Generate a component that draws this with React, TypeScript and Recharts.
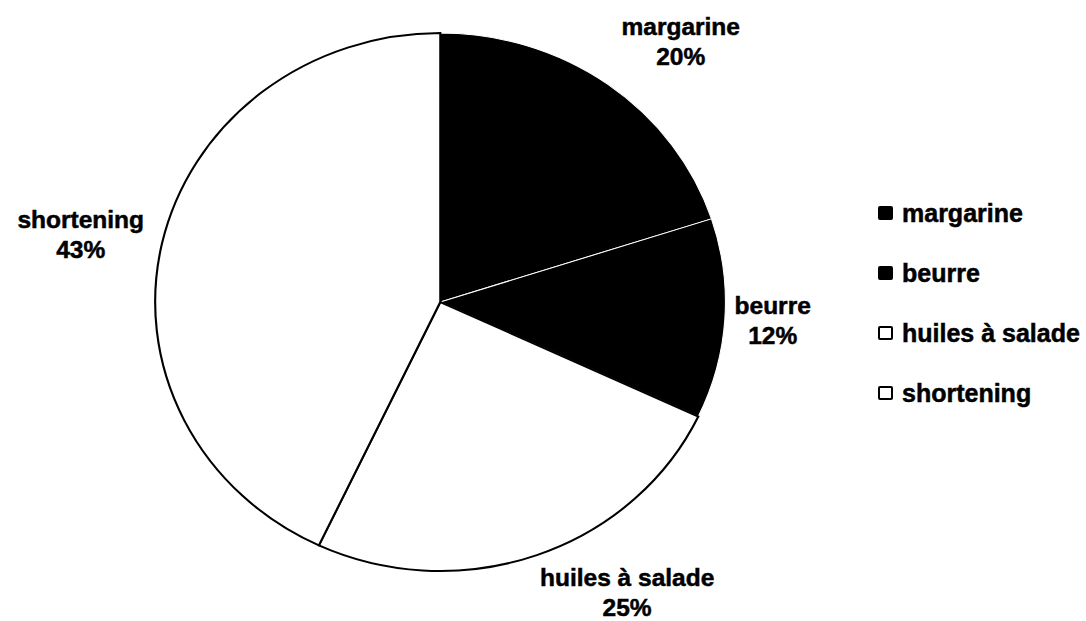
import React from "react";
import { PieChart, Pie, Cell, Legend } from "recharts";

const categories = ["margarine", "beurre", "huiles à salade", "shortening"];
const shares = [20, 12, 25, 43];
const fills = ["#000000", "#000000", "#ffffff", "#ffffff"];

const data = categories.map((name, i) => ({ name, value: shares[i] }));

const FONT = '"Liberation Sans", Arial, Helvetica, sans-serif';
const LABEL_SIZE = 24.5;
const LEGEND_SIZE = 25;
const RAD = Math.PI / 180;

const CX = 435;
const CY = 297;
const RADIUS = 269;
// the scanned original is a bit wider than tall
const STRETCH = 1.06;
// small tweaks where excel's best-fit drifted from the rim rule
const labelNudge = [
  [8, -10],
  [0, 0],
  [0, 0],
  [-8, 0],
];

let measureCtx: CanvasRenderingContext2D | null = null;
function textWidth(s: string) {
  if (!measureCtx) measureCtx = document.createElement("canvas").getContext("2d");
  if (!measureCtx) return s.length * LABEL_SIZE * 0.55;
  measureCtx.font = `bold ${LABEL_SIZE}px "Liberation Sans"`;
  return measureCtx.measureText(s).width;
}

// label sits just outside the rim, pushed away from it
function renderLabel(props: any) {
  const { cx, cy, midAngle, outerRadius, name, value, index } = props;
  const cos = Math.cos(midAngle * RAD);
  const sin = Math.sin(midAngle * RAD);
  const px = cx + (outerRadius * STRETCH + 10) * cos;
  const py = cy - (outerRadius + 10) * sin;
  const w = Math.max(textWidth(String(name)), textWidth(`${value}%`));
  const h = 60;
  const [nx, ny] = labelNudge[index] || [0, 0];
  const lx = px + Math.sign(cos) * (w / 2) + nx;
  const ly = py - sin * (h / 2) + ny;
  return (
    <text
      x={lx}
      y={ly}
      textAnchor="middle"
      fontFamily={FONT}
      fontWeight="bold"
      fontSize={LABEL_SIZE}
      fill="#000"
      stroke="#000"
      strokeWidth={0.5}
    >
      <tspan x={lx} dy={-7}>
        {name}
      </tspan>
      <tspan x={lx} dy={30}>
        {value}%
      </tspan>
    </text>
  );
}

function LegendBox() {
  return (
    <div
      style={{
        fontFamily: FONT,
        fontWeight: "bold",
        fontSize: LEGEND_SIZE,
        WebkitTextStroke: "0.5px #000",
      }}
    >
      {categories.map((name, i) => (
        <div
          key={name}
          style={{ display: "flex", alignItems: "center", height: 60 }}
        >
          <span
            style={{
              display: "inline-block",
              width: 15,
              height: 14,
              background: fills[i],
              border: "2px solid #000",
              borderRadius: 2,
              marginRight: 9,
              boxSizing: "border-box",
            }}
          />
          <span>{name}</span>
        </div>
      ))}
    </div>
  );
}

export default function App() {
  return (
    <div style={{ position: "absolute", left: 0, top: 0, background: "#fff" }}>
      <style>{`path.recharts-sector{transform-origin:${CX}px ${CY}px;transform:scaleX(${STRETCH});}`}</style>
      <PieChart width={1086} height={621}>
        <Pie
          data={data}
          dataKey="value"
          nameKey="name"
          cx={CX}
          cy={CY}
          outerRadius={RADIUS}
          startAngle={90}
          endAngle={-270}
          label={renderLabel}
          labelLine={false}
          isAnimationActive={false}
        >
          {data.map((d, i) => (
            <Cell
              key={d.name}
              fill={fills[i]}
              stroke={fills[i] === "#000000" ? "#ffffff" : "#000000"}
              strokeWidth={fills[i] === "#000000" ? 1 : 2}
            />
          ))}
        </Pie>
        <Legend
          content={<LegendBox />}
          wrapperStyle={{ position: "absolute", left: 878, top: 183, width: 208 }}
        />
      </PieChart>
    </div>
  );
}
